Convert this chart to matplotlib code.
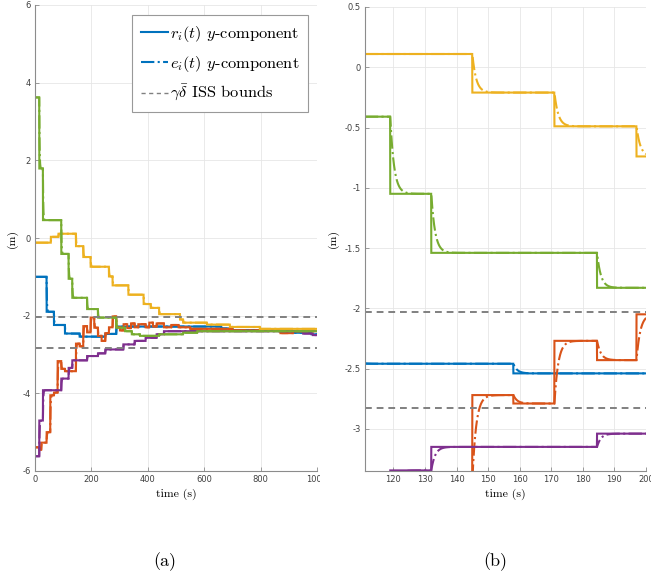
import numpy as np
import matplotlib
matplotlib.use('Agg')
import matplotlib.pyplot as plt
from matplotlib.lines import Line2D
from matplotlib.ticker import FixedLocator, FuncFormatter
from matplotlib.transforms import Bbox, TransformedBbox

# ---------------- data (step changes: start time, value) ----------------
blue_t = [0, 41, 67, 106, 158, 249, 288, 660, 700, 910, 980]
blue_v = [-1.00, -1.90, -2.24, -2.46, -2.54, -2.47, -2.28, -2.33, -2.37, -2.44, -2.48]

orange_t = [0, 15, 22, 28, 41, 54, 67, 80, 93, 106, 145, 158, 171, 184.5, 197, 210, 223,
            236, 249, 262, 275, 288, 301, 314, 327, 340, 353, 366, 392, 405, 418, 431,
            457, 483, 509, 550, 700, 870, 915]
orange_v = [-5.39, -5.45, -5.27, -5.27, -5.00, -4.05, -3.98, -3.17, -3.37, -3.43, -2.72,
            -2.79, -2.27, -2.43, -2.05, -2.31, -2.52, -2.65, -2.45, -2.30, -2.02, -2.30,
            -2.38, -2.22, -2.32, -2.20, -2.30, -2.22, -2.30, -2.18, -2.28, -2.20, -2.30,
            -2.24, -2.30, -2.34, -2.38, -2.45, -2.40]

yellow_t = [0, 56, 83, 145, 171, 197, 262, 275, 331, 385, 410, 440, 514, 525, 609, 691, 797]
yellow_v = [-0.12, 0.03, 0.11, -0.21, -0.49, -0.74, -0.99, -1.22, -1.46, -1.70, -1.80,
            -1.96, -2.10, -2.18, -2.23, -2.29, -2.34]

purple_t = [0, 15, 28, 93, 119, 132, 184.5, 223, 249, 313, 353, 392, 431, 457, 950, 985]
purple_v = [-5.62, -4.70, -3.92, -3.62, -3.345, -3.15, -3.04, -2.97, -2.87, -2.74, -2.65,
            -2.57, -2.48, -2.40, -2.46, -2.50]

green_t = [0, 15, 28, 93, 119, 132, 184.5, 223, 288, 319, 343, 372, 440, 525, 575]
green_v = [3.62, 1.79, 0.46, -0.41, -1.05, -1.54, -1.83, -2.05, -2.31, -2.40, -2.48,
           -2.52, -2.48, -2.44, -2.40]

iss_bounds = [-2.03, -2.83]
t_end = 1000
tau_e = 1.2  # lag of the estimate e_i(t) behind r_i(t)

series = [
    (blue_t, blue_v, '#0072BD'),
    (orange_t, orange_v, '#D95319'),
    (yellow_t, yellow_v, '#EDB120'),
    (purple_t, purple_v, '#7E2F8E'),
    (green_t, green_v, '#77AC30'),
]

dt = 0.05
t = np.arange(0, t_end + dt / 2, dt)


def step_signal(times, vals):
    times = np.asarray(times, float)
    vals = np.asarray(vals, float)
    idx = np.searchsorted(times, t, side='right') - 1
    r = vals[idx]
    e = np.empty_like(t)
    cur = vals[0]
    bounds = list(times) + [t_end + 1]
    for k in range(len(vals)):
        m = (t >= bounds[k]) & (t < bounds[k + 1])
        tt = t[m] - bounds[k]
        e[m] = vals[k] + (cur - vals[k]) * np.exp(-tt / tau_e)
        cur = vals[k] + (cur - vals[k]) * np.exp(-(bounds[k + 1] - bounds[k]) / tau_e)
    return r, e


plt.rcParams['axes.unicode_minus'] = False
plt.rcParams['mathtext.fontset'] = 'cm'

fig = plt.figure(figsize=(6.51, 5.75), dpi=100)
W, H = 651, 575
ax1 = fig.add_axes([35 / W, 1 - 471 / H, 282 / W, 466 / H])
ax2 = fig.add_axes([365 / W, 1 - 471 / H, 281 / W, 464 / H])

spine_c = '#8c8c8c'
tick_c = '#404040'
serif = 'cmr10'

for ax in (ax1, ax2):
    for (tt_, vv_, col) in series:
        r, e = step_signal(tt_, vv_)
        ax.plot(t, r, color=col, lw=1.5, solid_joinstyle='miter')
        ax.plot(t, e, color=col, lw=1.5, ls='-.')
    for b in iss_bounds:
        ax.axhline(b, color='#808080', lw=1.4, ls=(0, (3.5, 2.5)))
    ax.spines['top'].set_visible(False)
    ax.spines['right'].set_visible(False)
    for s in ('left', 'bottom'):
        ax.spines[s].set_color(spine_c)
        ax.spines[s].set_linewidth(0.8)
    ax.tick_params(direction='in', length=3, width=0.6, color=spine_c,
                   labelsize=6, labelcolor=tick_c, pad=3)
    ax.grid(True, color='#e6e6e6', lw=0.6)
    ax.set_axisbelow(True)
    ax.yaxis.set_major_formatter(FuncFormatter(lambda v, p: '%g' % v))
    ax.set_xlabel('time (s)', fontfamily=serif, fontsize=8.5)
    ax.set_ylabel('(m)', fontfamily=serif, fontsize=8.5)

ax1.set_xlim(0, 1000)
ax1.set_ylim(-6, 6)
ax1.xaxis.set_major_locator(FixedLocator([0, 200, 400, 600, 800, 1000]))
ax1.yaxis.set_major_locator(FixedLocator([-6, -4, -2, 0, 2, 4, 6]))
ax1.xaxis.set_label_coords(0.5, -0.038)
ax1.yaxis.set_label_coords(-0.062, 0.5)

ax2.set_xlim(111, 200)
ax2.set_ylim(-3.35, 0.5)
ax2.xaxis.set_major_locator(FixedLocator([120, 130, 140, 150, 160, 170, 180, 190, 200]))
ax2.yaxis.set_major_locator(FixedLocator([-3, -2.5, -2, -1.5, -1, -0.5, 0, 0.5]))
ax2.xaxis.set_label_coords(0.5, -0.038)
ax2.yaxis.set_label_coords(-0.093, 0.5)

# clip left panel tick labels at the panel edge (as in the cropped original)
clip = TransformedBbox(Bbox.from_extents(0, 0, 320 / W, 1), fig.transFigure)
for tk in ax1.xaxis.get_major_ticks():
    tk.label1.set_clip_box(clip)
    tk.label1.set_clip_on(True)

handles = [
    Line2D([], [], color='#0072BD', lw=1.5),
    Line2D([], [], color='#0072BD', lw=1.5, ls='-.'),
    Line2D([], [], color='#808080', lw=1.0, ls=(0, (3, 2.5))),
]
labels = [r'$r_i(t)$ $y$-component', r'$e_i(t)$ $y$-component',
          r'$\gamma\bar{\delta}$ ISS bounds']
leg = ax1.legend(handles, labels, loc='upper right', bbox_to_anchor=(0.968, 0.979),
                 prop={'family': serif, 'size': 11.8}, fancybox=False,
                 framealpha=1, edgecolor='#999999', handlelength=1.65,
                 handletextpad=0.12, labelspacing=0.6, borderpad=0.55,
                 borderaxespad=0)
leg.get_frame().set_linewidth(0.8)

fig.text(165 / W, 1 - 562 / H, '(a)', fontfamily=serif, fontsize=13,
         ha='center', va='center')
fig.text(495 / W, 1 - 562 / H, '(b)', fontfamily=serif, fontsize=13,
         ha='center', va='center')

fig.savefig('out.png', dpi=100)
